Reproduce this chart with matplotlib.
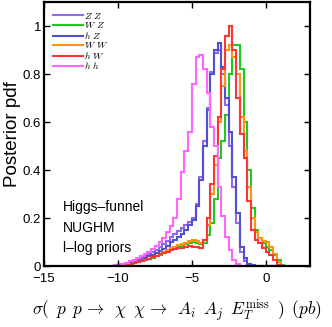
import numpy as np
import matplotlib
matplotlib.use('Agg')
import matplotlib.pyplot as plt

plt.rcParams['font.family'] = ['Liberation Sans', 'DejaVu Sans']
plt.rcParams['mathtext.fontset'] = 'cm'

# Histogram bin edges (log10 of cross section)
edges = np.arange(-10.5, 1.26, 0.25)

labels = [r'$Z\ Z$', r'$W\ Z$', r'$h\ Z$', r'$W\ W$', r'$h\ W$', r'$h\ h$']
colors = ['#9468ee', '#22c822', '#5050d0', '#ff9412', '#ff3434', '#ff66ff']

zz = [0.002, 0.003, 0.005, 0.008, 0.011, 0.015, 0.02, 0.026, 0.033, 0.04,
      0.048, 0.057, 0.067, 0.078, 0.09, 0.105, 0.12, 0.135, 0.145, 0.158,
      0.17, 0.185, 0.2, 0.26, 0.37, 0.52, 0.66, 0.81, 0.89, 0.9,
      0.8, 0.67, 0.5, 0.33, 0.18, 0.06, 0.02, 0.005, 0, 0,
      0, 0, 0, 0, 0, 0, 0]
wz = [0.001, 0.002, 0.003, 0.005, 0.007, 0.01, 0.013, 0.017, 0.021, 0.025,
      0.03, 0.035, 0.04, 0.047, 0.055, 0.062, 0.07, 0.075, 0.08, 0.085,
      0.09, 0.095, 0.1, 0.098, 0.09, 0.095, 0.13, 0.18, 0.28, 0.45,
      0.52, 0.63, 0.8, 0.92, 0.92, 0.82, 0.6, 0.4, 0.24, 0.15,
      0.115, 0.095, 0.08, 0.065, 0.045, 0.025, 0.005]
hz = [0.001, 0.002, 0.004, 0.006, 0.009, 0.012, 0.016, 0.021, 0.027, 0.033,
      0.04, 0.047, 0.055, 0.063, 0.072, 0.085, 0.1, 0.11, 0.12, 0.135,
      0.15, 0.17, 0.19, 0.25, 0.36, 0.5, 0.65, 0.8, 0.9, 0.93,
      0.83, 0.7, 0.56, 0.37, 0.22, 0.08, 0.035, 0.01, 0.003, 0,
      0, 0, 0, 0, 0, 0, 0]
ww = [0.001, 0.002, 0.003, 0.005, 0.007, 0.01, 0.013, 0.017, 0.021, 0.026,
      0.031, 0.036, 0.042, 0.05, 0.058, 0.066, 0.074, 0.08, 0.086, 0.092,
      0.098, 0.104, 0.11, 0.105, 0.095, 0.11, 0.17, 0.3, 0.42, 0.6,
      0.75, 0.9, 0.92, 0.87, 0.8, 0.62, 0.48, 0.33, 0.2, 0.14,
      0.115, 0.105, 0.1, 0.08, 0.05, 0.015, 0]
hw = [0.001, 0.002, 0.003, 0.005, 0.007, 0.01, 0.013, 0.017, 0.021, 0.026,
      0.031, 0.036, 0.042, 0.048, 0.054, 0.06, 0.065, 0.07, 0.074, 0.077,
      0.08, 0.082, 0.08, 0.078, 0.076, 0.11, 0.2, 0.34, 0.46, 0.62,
      0.82, 0.96, 1.0, 0.9, 0.7, 0.55, 0.45, 0.27, 0.15, 0.11,
      0.095, 0.075, 0.06, 0.045, 0.025, 0.005, 0]
hh = [0.002, 0.004, 0.007, 0.01, 0.014, 0.019, 0.025, 0.032, 0.04, 0.05,
      0.06, 0.07, 0.083, 0.1, 0.115, 0.14, 0.165, 0.2, 0.28, 0.39,
      0.48, 0.56, 0.76, 0.87, 0.88, 0.82, 0.72, 0.58, 0.5, 0.33,
      0.21, 0.12, 0.065, 0.025, 0.008, 0.002, 0, 0, 0, 0,
      0, 0, 0, 0, 0, 0, 0]

series = [zz, wz, hz, ww, hw, hh]

fig = plt.figure(figsize=(3.32, 3.27), dpi=100)
ax = fig.add_axes([0.1325, 0.1865, 0.8015, 0.807])

for vals, col, lab in zip(series, colors, labels):
    ax.stairs(vals, edges, color=col, lw=1.5, label=lab)

ax.set_xlim(-15, 3)
ax.set_ylim(0, 1.1)
ax.set_xticks([-15, -10, -5, 0])
ax.set_xticklabels(['\u221215', '\u221210', '\u22125', '0'])
ax.set_yticks([0, 0.2, 0.4, 0.6, 0.8, 1.0])
ax.set_yticklabels(['0', '0.2', '0.4', '0.6', '0.8', '1'])
ax.tick_params(direction='in', top=True, right=True, length=4, width=1,
               labelsize=9.5, pad=2)
ax.tick_params(axis='x', pad=5)
for sp in ax.spines.values():
    sp.set_linewidth(1.6)

ax.set_ylabel('Posterior pdf', fontsize=13.5, labelpad=1)
ax.set_xlabel(r'$\sigma(\,\ p\,\ p \,\rightarrow\,\ \chi\,\ \chi \,\rightarrow\,\ A_i\,\ A_j\,\ E_T^{\rm miss}\,\ )\,\ (pb)$',
              fontsize=12.5, labelpad=9)

ax.legend(loc='upper left', frameon=False, fontsize=7, labelspacing=-0.05,
          handlelength=3.1, handletextpad=0.15, borderaxespad=0.6,
          borderpad=0.3)

ax.text(0.07, 0.223, 'Higgs\u2013funnel', transform=ax.transAxes, fontsize=10, va='center')
ax.text(0.07, 0.144, 'NUGHM', transform=ax.transAxes, fontsize=10, va='center')
ax.text(0.07, 0.068, 'l\u2013log priors', transform=ax.transAxes, fontsize=10, va='center')

fig.savefig('out.png', dpi=100)
